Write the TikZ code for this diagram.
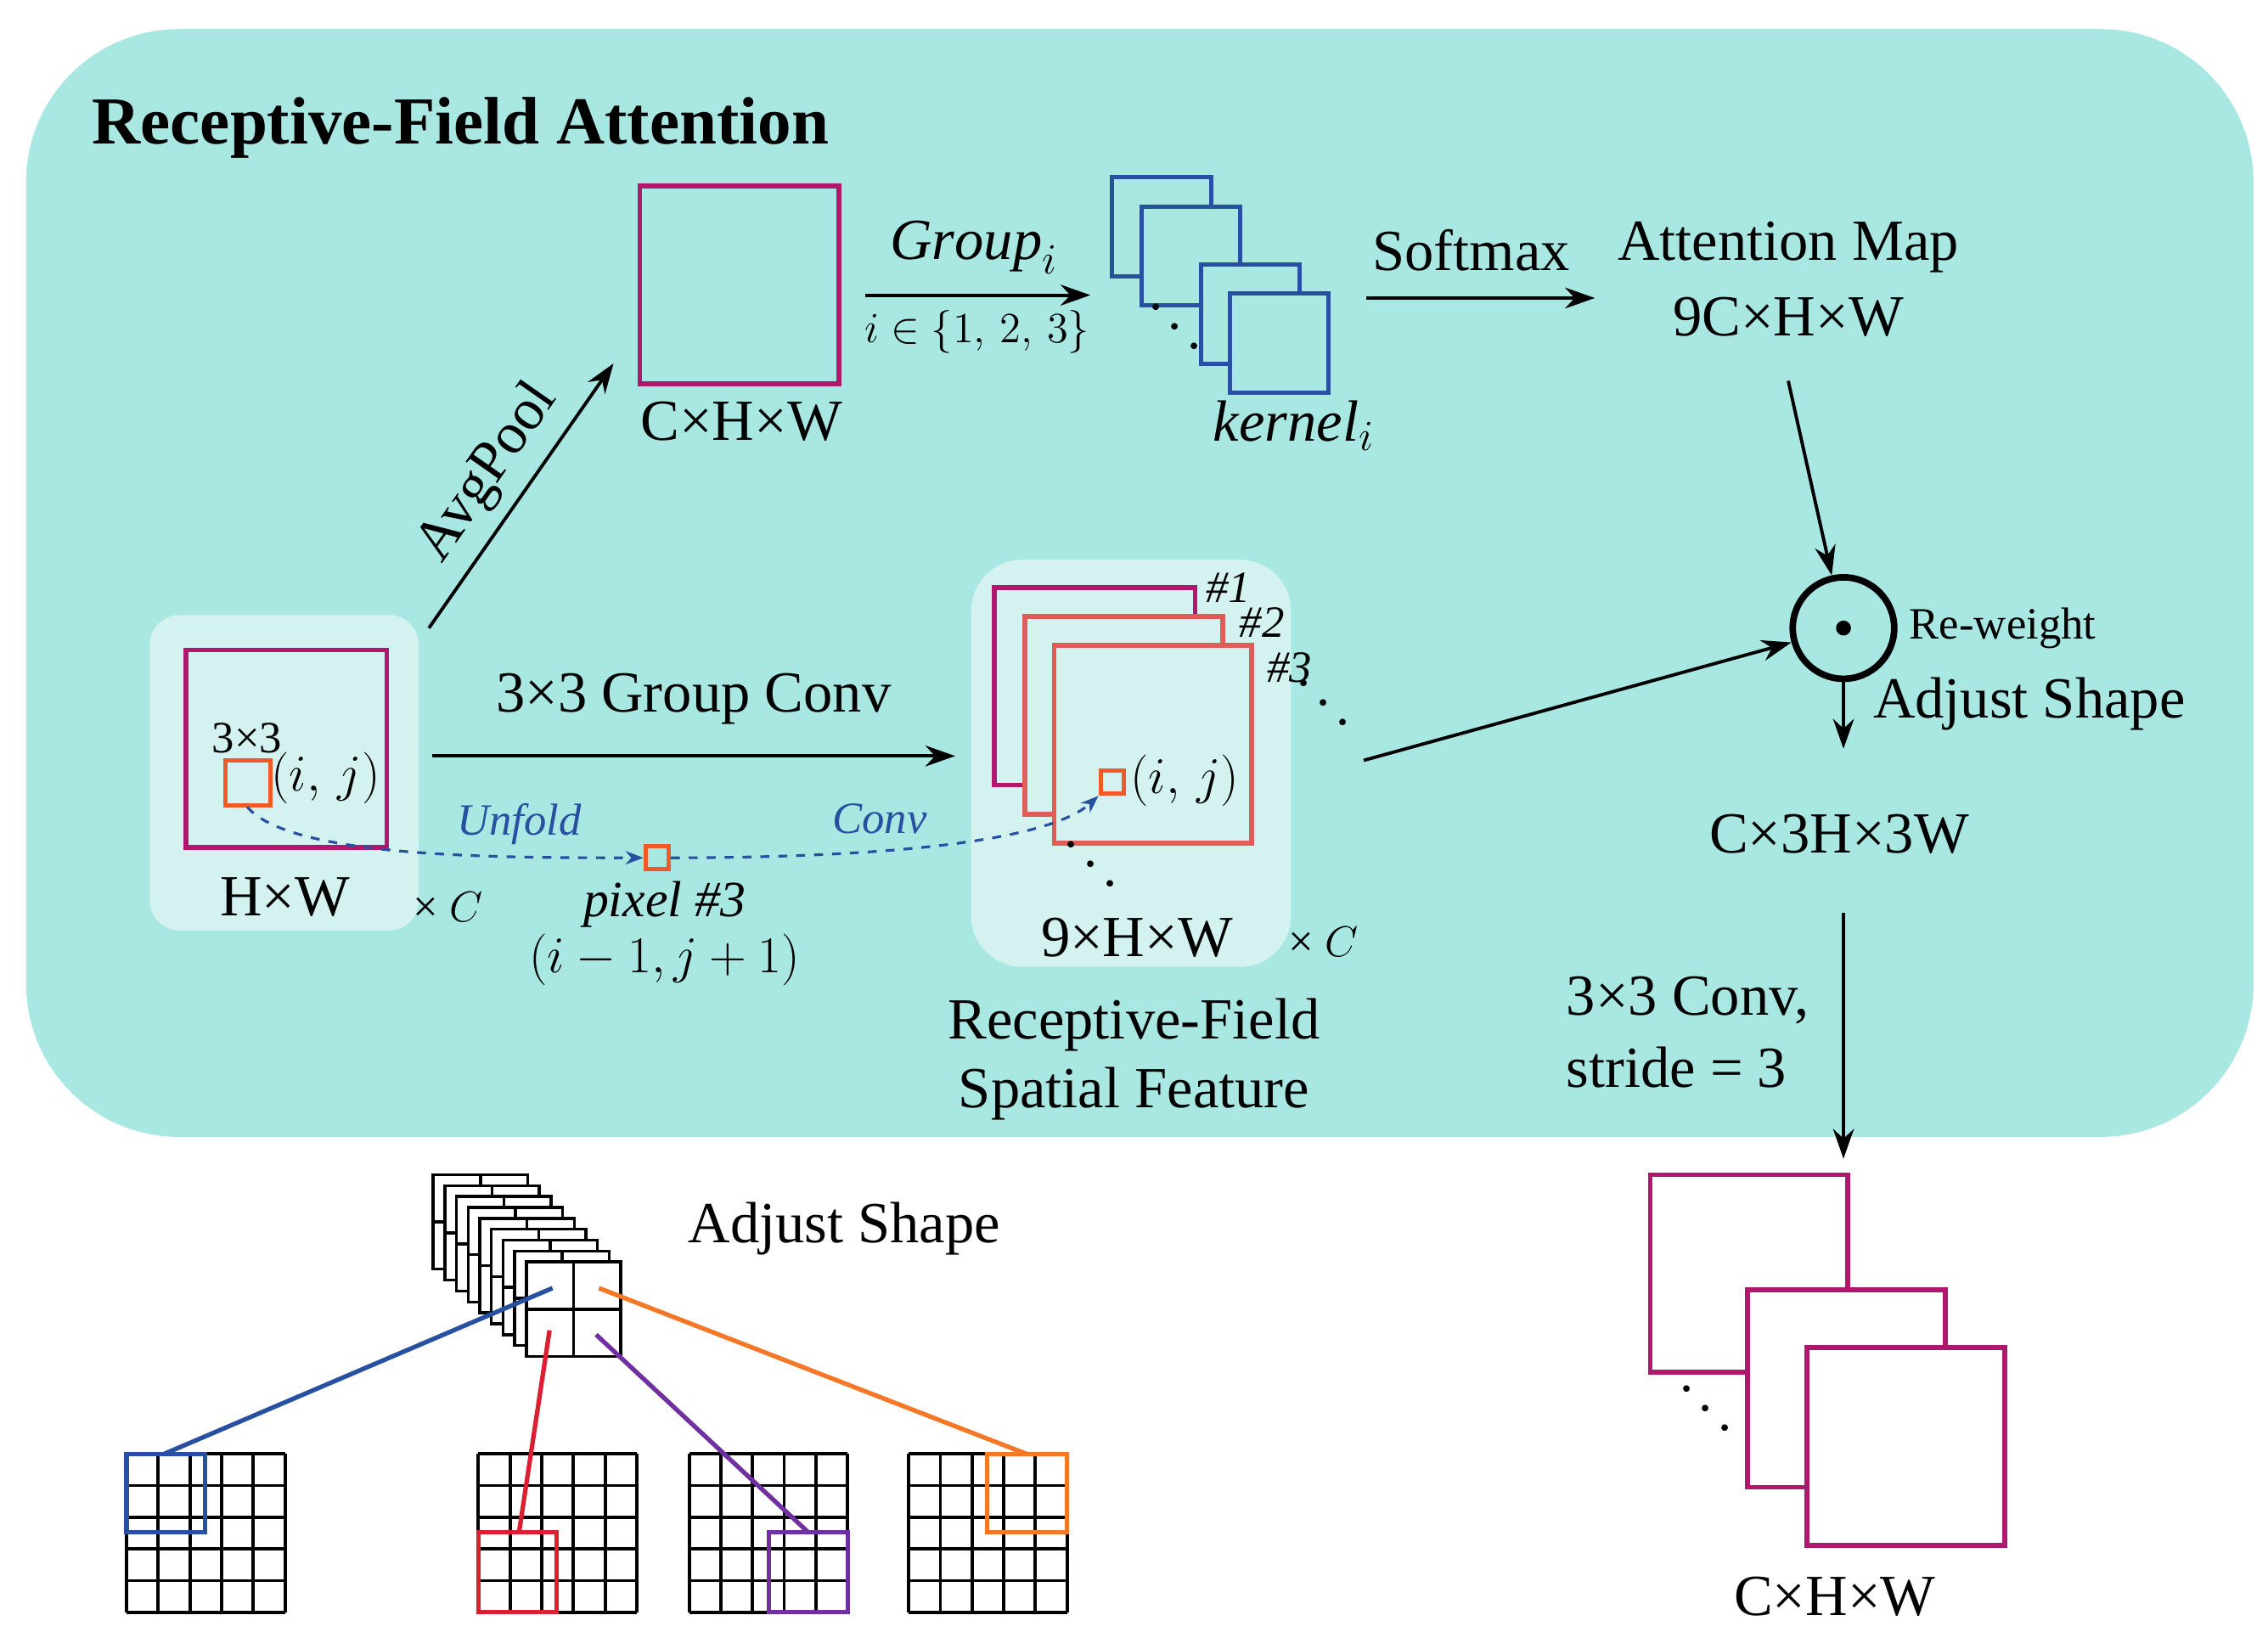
\documentclass[tikz,border=0pt]{standalone}
\usepackage{fontspec}
\setmainfont{Liberation Serif}
\usepackage{amsmath}
\usetikzlibrary{arrows.meta}
\definecolor{teal1}{RGB}{168,231,226}
\definecolor{teal2}{RGB}{212,243,240}
\definecolor{mag}{RGB}{176,24,110}
\definecolor{salm}{RGB}{224,92,86}
\definecolor{orng}{RGB}{240,90,40}
\definecolor{kblue}{RGB}{40,80,160}
\definecolor{gpurp}{RGB}{112,48,160}
\definecolor{gred}{RGB}{220,30,50}
\definecolor{gorng}{RGB}{245,120,40}
\begin{document}
\begin{tikzpicture}[x=0.01712cm, y=-0.01712cm,
    txt/.style={inner sep=0pt, font=\fontsize{19.5}{23}\selectfont},
    small/.style={inner sep=0pt, font=\fontsize{15}{18}\selectfont},
    arr/.style={-{Stealth[length=10pt,width=7pt]}, line width=1.1pt},
    sq/.style={line width=1.6pt, fill=white}]
  \useasboundingbox (0,0) rectangle (1560,1122);
  % background panels
  \fill[teal1, rounded corners=1.8cm] (18,20) rectangle (1550,782);
  \fill[teal2, rounded corners=0.35cm] (103,423) rectangle (288,640);
  \fill[teal2, rounded corners=0.6cm] (668,385) rectangle (888,665);
  \node[anchor=west, inner sep=0pt, font=\fontsize{22.5}{27}\selectfont\bfseries] (title) at (63,88) {Receptive-Field Attention};
  % input feature
  \draw[mag, line width=1.6pt] (128,447) rectangle (266,583);
  \draw[orng, line width=1.6pt] (155,523) rectangle (186,554);
  \node[small] (k33) at (170,508) {3×3};
  \node[small, font=\fontsize{17}{20}\selectfont] (ij1) at (224,535) {$(i,\,j)$};
  \node[txt] (hw) at (196,617) {H×W};
  \node[small] (c1) at (308,624) {× $C$};
  % avgpool branch
  \coordinate (in1) at (295,432);
  \coordinate (p1) at (422,250);
  \draw[arr] (in1) -- node[sloped, above=4pt, txt] {AvgPool} (p1);
  \draw[mag, line width=1.6pt] (440,128) rectangle (577,264);
  \node[txt] (chw1) at (510,290) {C×H×W};
  \coordinate (g1) at (595,203);
  \coordinate (g2) at (750,203);
  \draw[arr] (g1) -- (g2);
  \node[txt] (grp) at (670,170) {$\mathit{Group}_i$};
  \node[small, font=\fontsize{14.5}{17}\selectfont] (iset) at (672,228) {$i\in\{1,\,2,\,3\}$};
  % kernels
  \foreach \x/\y in {765/122,785/142,826/182,846/202}
    \draw[kblue, line width=1.4pt, fill=teal1] (\x,\y) rectangle ++(68,68);
  \node[txt, rotate=-45] (kd) at (810,228) {$\cdots$};
  \node[txt] (ker) at (890,293) {$\mathit{kernel}_i$};
  \node[txt] (smx) at (1012,172) {Softmax};
  \coordinate (s1) at (940,205);
  \coordinate (s2) at (1097,205);
  \draw[arr] (s1) -- (s2);
  \node[txt] (am) at (1230,170) {Attention Map};
  \node[txt] (am2) at (1230,218) {9C×H×W};
  % reweight
  \node[circle, draw, line width=2.2pt, minimum size=34pt, inner sep=0pt] (odot) at (1268,432) {};
  \fill (odot.center) circle (2.5pt);
  \coordinate (a1) at (1230,262);
  \draw[arr] (a1) -- (odot);
  \node[small, anchor=west] (rw) at (1313,432) {Re-weight};
  \coordinate (r2) at (1268,515);
  \draw[arr] (odot) -- (r2);
  \node[txt, anchor=west] (adj) at (1288,484) {Adjust Shape};
  \node[txt] (c3h) at (1265,574) {C×3H×3W};
  \coordinate (c1a) at (1268,628);
  \coordinate (c1b) at (1268,797);
  \draw[arr] (c1a) -- (c1b);
  \node[txt, anchor=west] (cv1) at (1077,688) {3×3 Conv,};
  \node[txt, anchor=west] (cv2) at (1077,734) {stride = 3};
  % output
  \foreach \x/\y in {1135/808,1202/887,1243/927}
    \draw[mag, sq] (\x,\y) rectangle ++(136,136);
  \node[txt, rotate=-45] (od) at (1175,972) {$\cdots$};
  \node[txt] (chw2) at (1262,1098) {C×H×W};
  % group conv
  \coordinate (gc1) at (297,520);
  \coordinate (gc2) at (657,520);
  \draw[arr] (gc1) -- node[above=10pt, txt] {3×3 Group Conv} (gc2);
  \draw[mag, line width=1.6pt, fill=teal2] (684,404) rectangle (822,540);
  \draw[salm, line width=1.6pt, fill=teal2] (705,424) rectangle (841,560);
  \draw[salm, line width=1.6pt, fill=teal2] (725,444) rectangle (861,580);
  \node[small] (n1) at (845,404) {\itshape\#1};
  \node[small] (n2) at (868,428) {\itshape\#2};
  \node[small] (n3) at (887,459) {\itshape\#3};
  \node[txt, rotate=-45] (rd) at (912,487) {$\cdots$};
  \node[draw=orng, line width=1.4pt, minimum size=16*0.01712cm, inner sep=0pt] (pix) at (765,538) {};
  \node[small, font=\fontsize{17}{20}\selectfont] (ij2) at (815,537) {$(i,\,j)$};
  \node[txt, rotate=-45] (rd2) at (752,598) {$\cdots$};
  \node[txt] (nhw) at (782,645) {9×H×W};
  \node[small] (c2) at (910,648) {× $C$};
  \node[txt] (rf1) at (780,705) {Receptive-Field};
  \node[txt] (rf2) at (780,752) {Spatial Feature};
  \coordinate (f1) at (938,523);
  \draw[arr] (f1) -- (odot);
  % unfold / conv path
  \node[draw=orng, line width=1.4pt, minimum size=16*0.01712cm, inner sep=0pt] (pix3) at (452,590) {};
  \coordinate (u0) at (170,555);
  \draw[kblue, dashed, line width=0.9pt, -{Stealth[length=6pt]}] (u0) .. controls (200,590) and (340,590) .. (pix3.west);
  \draw[kblue, dashed, line width=0.9pt, -{Stealth[length=6pt]}] (pix3.east) .. controls (600,590) and (720,580) .. (pix.south west);
  \node[small, text=kblue] (unf) at (357,567) {\itshape Unfold};
  \node[small, text=kblue] (cnv) at (605,563) {\itshape Conv};
  \node[small, font=\fontsize{17}{20}\selectfont] (px) at (457,622) {\itshape pixel \#3};
  \node[small, font=\fontsize{17}{20}\selectfont] (px2) at (457,660) {$(i-1,j+1)$};
  % adjust shape bottom
  \foreach \i in {0,...,8} {
    \draw[line width=1pt, fill=white] (298+8*\i,808+7.5*\i) rectangle ++(65,65);
    \draw[line width=1pt] (330.5+8*\i,808+7.5*\i) -- ++(0,65) (298+8*\i,840.5+7.5*\i) -- ++(65,0);
  }
  \node[txt, anchor=west] (adj2) at (473,845) {Adjust Shape};
  \foreach \gx in {87,329,474,625}
    \draw[line width=1.1pt, step=21.8*0.01712cm, shift={(\gx,1109)}] (0,0) grid (109,-109);
  \draw[kblue, line width=1.5pt] (87,1000) rectangle (141,1054);
  \draw[gred, line width=1.5pt] (329,1054) rectangle (383,1109);
  \draw[gpurp, line width=1.5pt] (529,1054) rectangle (583,1109);
  \draw[gorng, line width=1.5pt] (679,1000) rectangle (734,1054);
  \draw[kblue, line width=1.5pt] (380,886) -- (113,1000);
  \draw[gred, line width=1.5pt] (378,915) -- (357,1054);
  \draw[gpurp, line width=1.5pt] (410,918) -- (556,1054);
  \draw[gorng, line width=1.5pt] (412,886) -- (706,1000);
\end{tikzpicture}
\end{document}
